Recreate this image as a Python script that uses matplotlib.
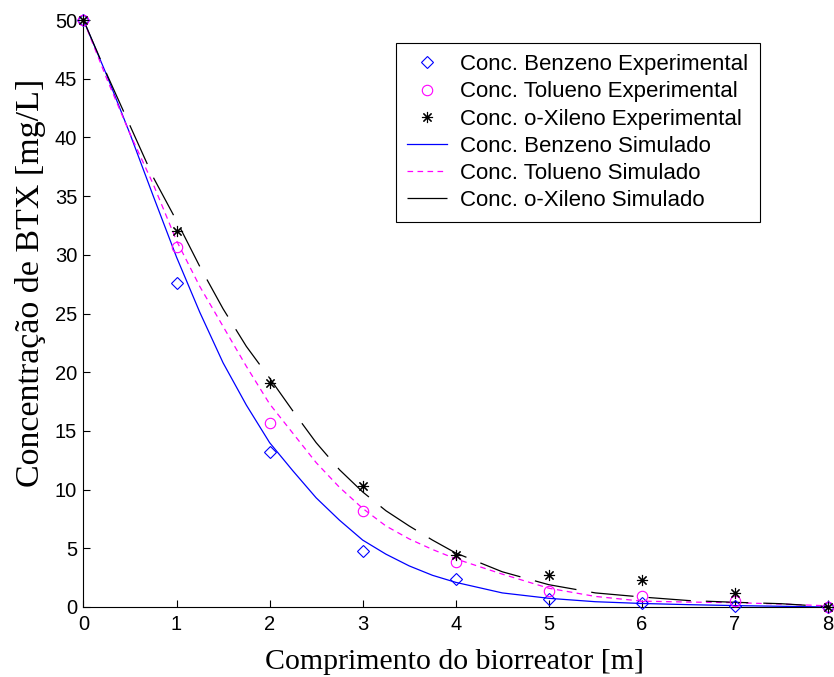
import matplotlib
matplotlib.use("Agg")
import matplotlib.pyplot as plt
import numpy as np

# experimental points along the bioreactor
x_exp = [0, 1, 2, 3, 4, 5, 6, 7, 8]
benzeno_exp = [50, 27.6, 13.2, 4.8, 2.4, 0.7, 0.3, 0.1, 0.0]
tolueno_exp = [50, 30.7, 15.7, 8.2, 3.8, 1.4, 0.9, 0.5, 0.0]
xileno_exp = [50, 32.0, 19.1, 10.3, 4.4, 2.7, 2.3, 1.2, 0.0]

# simulated profiles
x_sim = [0, 0.25, 0.5, 0.75, 1, 1.25, 1.5, 1.75, 2, 2.25, 2.5, 2.75, 3,
         3.25, 3.5, 3.75, 4, 4.5, 5, 5.5, 6, 6.5, 7, 7.5, 8]
benzeno_sim = [50, 45.3, 40.3, 35.0, 29.8, 25.1, 20.8, 17.2, 14.0, 11.6, 9.3,
               7.4, 5.7, 4.5, 3.5, 2.7, 2.1, 1.2, 0.74, 0.45, 0.3, 0.2, 0.12,
               0.06, 0.0]
tolueno_sim = [50, 45.0, 40.3, 36.0, 31.2, 27.3, 23.9, 20.5, 17.3, 14.8, 12.3,
               10.2, 8.4, 6.9, 5.8, 4.9, 4.1, 2.8, 1.6, 0.9, 0.5, 0.42, 0.37,
               0.25, 0.1]
xileno_sim = [50, 45.4, 41.0, 36.6, 32.9, 29.0, 25.4, 22.2, 19.5, 16.7, 14.0,
              11.7, 9.8, 8.2, 6.9, 5.7, 4.6, 3.0, 1.9, 1.2, 0.85, 0.55, 0.4,
              0.28, 0.03]

fig = plt.figure(figsize=(8.34, 6.77), dpi=100)
ax = fig.add_axes([0.1001, 0.1034, 0.8927, 0.867])

ax.plot(x_exp, benzeno_exp, linestyle='none', marker='D', markersize=6.5,
        markerfacecolor='none', markeredgecolor='#0000ff', markeredgewidth=0.8,
        label='Conc. Benzeno Experimental', clip_on=False, zorder=3)
ax.plot(x_exp, tolueno_exp, linestyle='none', marker='o', markersize=7.5,
        markerfacecolor='none', markeredgecolor='#ff00ff', markeredgewidth=0.8,
        label='Conc. Tolueno Experimental', clip_on=False, zorder=3)
ax.plot(x_exp, xileno_exp, linestyle='none', marker=(8, 2, 0), markersize=8,
        markeredgecolor='black', markeredgewidth=0.8,
        label='Conc. o-Xileno Experimental', clip_on=False, zorder=3)

ax.plot(x_sim, benzeno_sim, color='#0000ff', linewidth=0.9,
        label='Conc. Benzeno Simulado')
ax.plot(x_sim, tolueno_sim, color='#ff00ff', linewidth=0.9,
        linestyle=(0, (4.5, 3.5)), label='Conc. Tolueno Simulado')
ax.plot(x_sim, xileno_sim, color='black', linewidth=0.9,
        linestyle=(0, (34, 12)), label='Conc. o-Xileno Simulado')

ax.set_xlim(0, 8)
ax.set_ylim(0, 50)
ax.set_xticks(np.arange(0, 9, 1))
ax.set_yticks(np.arange(0, 51, 5))
ax.spines['top'].set_visible(False)
ax.spines['right'].set_visible(False)
ax.tick_params(direction='in', length=5, width=0.8, labelsize=14.5)
ax.tick_params(axis='x', pad=5.5)
ax.tick_params(axis='y', pad=4.5)
for lbl in ax.get_xticklabels() + ax.get_yticklabels():
    lbl.set_family('Liberation Sans')

ax.set_xlabel('Comprimento do biorreator [m]', family='Liberation Serif',
              fontsize=21.5, va='top')
ax.xaxis.set_label_coords(0.498, -0.071)
ax.set_ylabel('Concentração de BTX [mg/L]', family='Liberation Serif',
              fontsize=24.5, va='bottom')
ax.yaxis.set_label_coords(-0.051, 0.552)

leg = ax.legend(loc='upper left', bbox_to_anchor=(396 / 834, 1 - 43 / 677),
                bbox_transform=fig.transFigure, borderaxespad=0,
                prop={'family': 'Liberation Sans', 'size': 16},
                fancybox=False, framealpha=1, edgecolor='black',
                handlelength=1.8, handletextpad=0.6, labelspacing=0.28,
                borderpad=0.5)
leg.get_frame().set_linewidth(0.8)

fig.savefig('out.png', dpi=100)
